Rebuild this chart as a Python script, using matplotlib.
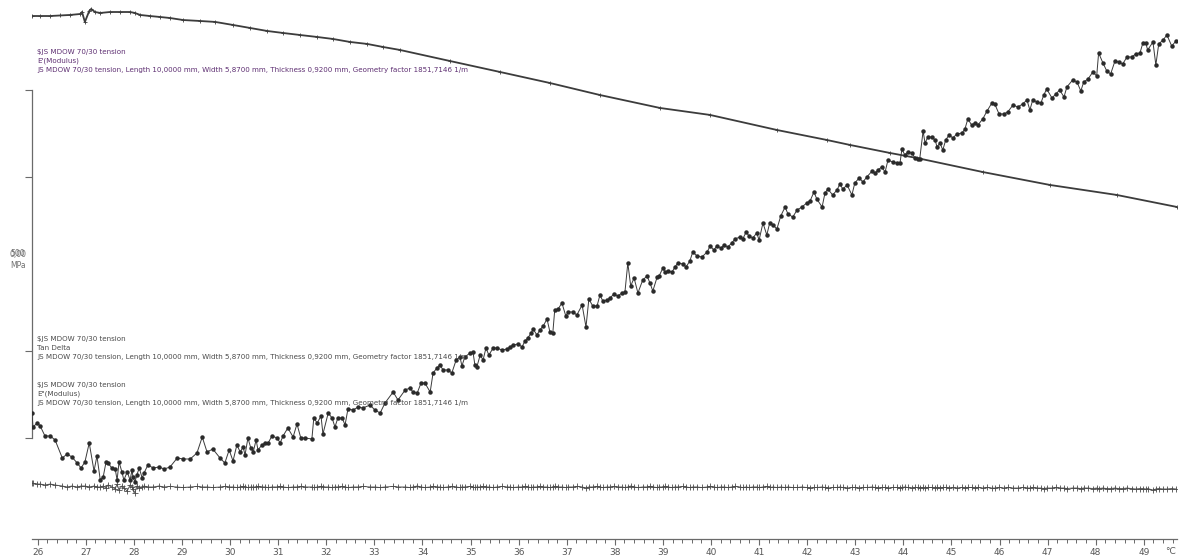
import matplotlib
matplotlib.use("Agg")
import matplotlib.pyplot as plt
from matplotlib.ticker import MultipleLocator
import matplotlib.transforms as mtransforms

# ---------------------------------------------------------------- data
# measurement temperatures (°C) shared by tan delta and E''
temperature = [
    25.88, 25.90, 25.99, 26.05, 26.15, 26.26, 26.36, 26.51, 26.61, 26.71,
    26.82, 26.90, 26.98, 27.07, 27.17, 27.23, 27.30, 27.36, 27.42, 27.46,
    27.54, 27.61, 27.65, 27.69, 27.75, 27.79, 27.86, 27.92, 27.96, 27.98,
    28.02, 28.06, 28.11, 28.17, 28.21, 28.29, 28.40, 28.52, 28.63, 28.75,
    28.90, 29.02, 29.17, 29.31, 29.42, 29.52, 29.64, 29.79, 29.89, 29.98,
    30.06, 30.14, 30.21, 30.27, 30.31, 30.37, 30.43, 30.48, 30.54, 30.58,
    30.66, 30.73, 30.79, 30.87, 30.98, 31.04, 31.10, 31.20, 31.31, 31.39,
    31.47, 31.56, 31.70, 31.74, 31.81, 31.89, 31.93, 32.04, 32.12, 32.18,
    32.24, 32.33, 32.39, 32.45, 32.56, 32.66, 32.76, 32.91, 33.01, 33.12,
    33.22, 33.39, 33.49, 33.64, 33.74, 33.80, 33.89, 33.97, 34.05, 34.16,
    34.22, 34.30, 34.36, 34.43, 34.53, 34.61, 34.70, 34.78, 34.82, 34.88,
    34.99, 35.05, 35.09, 35.13, 35.20, 35.26, 35.32, 35.38, 35.47, 35.55,
    35.65, 35.76, 35.82, 35.88, 35.99, 36.07, 36.13, 36.19, 36.26, 36.30,
    36.38, 36.44, 36.51, 36.59, 36.65, 36.71, 36.75, 36.82, 36.90, 36.98,
    37.03, 37.13, 37.21, 37.32, 37.40, 37.46, 37.54, 37.63, 37.69, 37.75,
    37.84, 37.90, 37.98, 38.06, 38.15, 38.21, 38.27, 38.33, 38.40, 38.48,
    38.58, 38.67, 38.73, 38.79, 38.88, 38.92, 39.00, 39.04, 39.10, 39.19,
    39.25, 39.31, 39.42, 39.48, 39.56, 39.62, 39.71, 39.81, 39.92, 39.98,
    40.06, 40.12, 40.21, 40.27, 40.35, 40.43, 40.50, 40.60, 40.66, 40.73,
    40.79, 40.87, 40.95, 41.00, 41.08, 41.16, 41.22, 41.29, 41.37, 41.45,
    41.54, 41.60, 41.70, 41.79, 41.89, 41.99, 42.06, 42.14, 42.20, 42.31,
    42.37, 42.43, 42.53, 42.62, 42.68, 42.74, 42.83, 42.93, 42.99, 43.08,
    43.16, 43.24, 43.35, 43.41, 43.47, 43.55, 43.62, 43.68, 43.78, 43.87,
    43.93, 43.97, 44.03, 44.09, 44.18, 44.24, 44.30, 44.34, 44.41, 44.45,
    44.51, 44.59, 44.66, 44.70, 44.76, 44.82, 44.88, 44.95, 45.03, 45.11,
    45.22, 45.28, 45.34, 45.42, 45.49, 45.55, 45.65, 45.74, 45.84, 45.90,
    45.99, 46.09, 46.17, 46.28, 46.38, 46.48, 46.57, 46.63, 46.69, 46.78,
    46.86, 46.92, 46.98, 47.09, 47.17, 47.25, 47.34, 47.40, 47.52, 47.61,
    47.69, 47.75, 47.84, 47.94, 48.02, 48.06, 48.15, 48.23, 48.31, 48.40,
    48.48, 48.56, 48.65, 48.75, 48.83, 48.92, 48.98, 49.04, 49.08, 49.19,
    49.25, 49.31, 49.40, 49.48, 49.58, 49.67,
]

tan_delta = [
    .087, .073, .077, .074, .064, .064, .060, .042, .046, .043,
    .037, .032, .038, .057, .029, .044, .020, .023, .038, .037,
    .032, .031, .020, .038, .028, .020, .028, .020, .030, .023,
    .018, .025, .032, .022, .027, .035, .032, .033, .031, .033,
    .042, .041, .041, .047, .063, .048, .051, .042, .037, .050,
    .039, .055, .048, .053, .045, .062, .052, .048, .060, .050,
    .055, .057, .057, .064, .062, .057, .064, .072, .063, .076,
    .062, .062, .061, .082, .077, .084, .066, .087, .082, .073,
    .082, .082, .075, .091, .090, .093, .092, .095, .090, .087,
    .097, .108, .100, .110, .112, .108, .107, .117, .117, .108,
    .127, .132, .135, .130, .130, .127, .140, .143, .134, .143,
    .147, .148, .135, .133, .145, .140, .152, .145, .152, .152,
    .150, .151, .153, .155, .156, .153, .159, .162, .167, .171,
    .165, .170, .174, .181, .168, .167, .190, .191, .197, .184,
    .188, .188, .185, .195, .173, .201, .194, .194, .205, .199,
    .200, .202, .206, .204, .207, .208, .237, .214, .222, .207,
    .220, .224, .217, .209, .223, .224, .232, .228, .229, .228,
    .233, .237, .236, .233, .239, .248, .244, .243, .248, .254,
    .250, .254, .252, .255, .253, .257, .261, .263, .261, .268,
    .264, .262, .267, .260, .277, .265, .277, .275, .271, .284,
    .293, .286, .283, .290, .293, .297, .299, .308, .301, .293,
    .307, .311, .305, .310, .316, .311, .315, .305, .317, .322,
    .318, .323, .329, .327, .330, .333, .328, .340, .338, .337,
    .337, .351, .345, .348, .347, .342, .341, .341, .369, .357,
    .363, .363, .360, .353, .357, .350, .360, .365, .362, .366,
    .367, .371, .381, .375, .377, .375, .381, .389, .397, .396,
    .386, .386, .388, .395, .393, .396, .400, .390, .400, .398,
    .397, .405, .411, .402, .406, .410, .403, .413, .420, .418,
    .409, .418, .421, .428, .424, .447, .437, .429, .426, .439,
    .438, .436, .443, .443, .446, .447, .457, .457, .450, .458,
    .435, .456, .460, .465, .454, .459,
]

# loss modulus E'' (MPa)
e_loss = [
    248.3, 247.7, 247.1, 247.1, 246.0, 247.1, 246.0, 244.8, 243.7, 244.8,
    243.7, 244.8, 244.8, 243.7, 244.8, 243.7, 243.7, 244.8, 242.5, 246.0,
    243.7, 241.4, 247.1, 240.2, 244.8, 242.5, 239.1, 246.0, 243.7, 241.4,
    236.8, 244.8, 242.5, 243.7, 244.8, 243.7, 243.7, 244.8, 243.7, 244.3,
    243.7, 243.1, 243.7, 244.3, 243.7, 243.7, 243.1, 243.7, 244.3, 243.7,
    243.7, 243.1, 243.7, 244.3, 243.7, 243.1, 243.7, 243.7, 243.7, 244.3,
    243.7, 243.7, 243.1, 243.7, 243.7, 244.3, 243.7, 243.1, 243.7, 243.7,
    244.3, 243.7, 243.7, 243.1, 243.7, 244.3, 243.7, 243.7, 243.1, 243.7,
    243.7, 244.3, 243.7, 243.1, 243.7, 243.7, 244.3, 243.7, 243.7, 243.1,
    243.7, 244.3, 243.7, 243.7, 243.1, 243.7, 244.8, 243.7, 243.1, 243.7,
    244.3, 243.7, 243.7, 243.1, 243.7, 244.3, 243.7, 243.1, 243.7, 243.7,
    244.3, 243.7, 243.1, 243.7, 243.7, 244.3, 243.7, 243.7, 243.1, 243.7,
    244.3, 243.7, 243.7, 243.1, 243.7, 243.7, 244.3, 243.7, 243.1, 243.7,
    243.7, 244.3, 243.7, 243.7, 243.1, 243.7, 244.3, 243.7, 243.7, 243.1,
    243.7, 243.7, 244.3, 243.7, 242.5, 243.7, 243.7, 244.3, 243.7, 243.1,
    243.7, 243.7, 244.3, 243.7, 243.7, 243.1, 243.7, 244.8, 243.7, 243.1,
    243.7, 243.7, 244.3, 243.7, 243.1, 243.7, 243.7, 244.3, 243.7, 243.1,
    243.7, 243.7, 244.3, 243.7, 243.1, 243.7, 243.7, 243.1, 243.7, 244.3,
    243.7, 243.1, 243.7, 243.7, 243.1, 243.7, 244.3, 243.7, 243.1, 243.7,
    243.1, 243.7, 243.7, 243.1, 243.7, 244.3, 243.1, 243.7, 243.1, 243.7,
    243.1, 243.7, 243.1, 243.1, 243.7, 243.1, 242.5, 243.1, 243.1, 243.7,
    243.1, 242.5, 243.1, 243.1, 243.7, 243.1, 242.5, 243.1, 243.1, 242.5,
    243.1, 243.1, 243.7, 243.1, 242.5, 243.1, 243.1, 242.5, 243.1, 243.1,
    242.5, 243.1, 243.7, 243.1, 242.5, 243.1, 243.1, 242.5, 243.1, 242.5,
    243.1, 243.1, 242.5, 243.1, 242.5, 243.1, 243.1, 242.5, 243.1, 242.5,
    243.1, 242.5, 243.1, 243.1, 242.5, 243.1, 242.5, 243.1, 242.5, 242.5,
    243.1, 242.5, 243.1, 242.5, 242.5, 243.1, 242.5, 242.5, 243.1, 242.5,
    242.5, 241.9, 242.5, 242.5, 243.1, 242.5, 242.5, 241.9, 242.5, 242.5,
    241.9, 242.5, 242.5, 241.9, 242.5, 241.9, 242.5, 241.9, 241.9, 242.5,
    241.9, 241.9, 242.5, 241.9, 241.4, 241.9, 241.9, 241.4, 241.9, 240.2,
    241.4, 241.9, 241.4, 241.4, 241.9, 241.4,
]

# storage modulus E' (MPa) on its own temperature points
temp_storage = [
    25.88, 26.05, 26.26, 26.46, 26.67, 26.88, 26.92, 26.98, 27.07, 27.11,
    27.19, 27.30, 27.50, 27.71, 27.92, 28.02, 28.13, 28.33, 28.54, 28.75,
    29.02, 29.37, 29.69, 30.06, 30.41, 30.77, 31.10, 31.45, 31.81, 32.14,
    32.49, 32.85, 33.18, 33.53, 34.57, 35.61, 36.65, 37.69, 38.94, 39.98,
    41.37, 42.41, 42.89, 43.72, 44.28, 45.65, 47.05, 48.44, 49.69,
]
e_storage = [
    785.0, 785.0, 785.0, 785.6, 786.2, 787.3, 789.6, 778.2, 790.8, 793.1,
    789.6, 788.5, 789.6, 789.6, 789.6, 788.5, 786.2, 785.0, 783.9, 782.7,
    780.4, 779.3, 778.2, 774.7, 771.3, 767.8, 765.5, 763.2, 760.9, 758.6,
    755.2, 752.9, 749.4, 746.0, 733.3, 720.7, 708.0, 694.2, 679.3, 671.3,
    654.0, 642.5, 636.8, 627.6, 621.8, 605.7, 590.8, 579.3, 565.5,
]

x_ticks = list(range(26, 50))
modulus_ticks = [300, 400, 600, 700]

header = "$JS MDOW 70/30 tension"
sample = ("JS MDOW 70/30 tension, Length 10,0000 mm, Width 5,8700 mm, "
          "Thickness 0,9200 mm, Geometry factor 1851,7146 1/m")

# ---------------------------------------------------------------- figure
W, H = 1182, 559
fig = plt.figure(figsize=(W / 100, H / 100), dpi=100)
fig.patch.set_facecolor("white")


def fx(px):
    return px / W


def fy(py):
    return 1 - py / H


ax = fig.add_axes([fx(32), fy(539), 1145 / W, 539 / H])
ax.patch.set_alpha(0)
ax.set_xlim(25.88, 49.69)
ax.set_ylim(183.9, 803.4)

for side in ("top", "right"):
    ax.spines[side].set_visible(False)
ax.spines["left"].set_bounds(300, 700)
ax.spines["left"].set_color("#6a6a6a")
ax.spines["left"].set_linewidth(0.9)
ax.spines["bottom"].set_color("#6a6a6a")
ax.spines["bottom"].set_linewidth(0.9)

ax.set_yticks(modulus_ticks)
ax.set_yticklabels([])
ax.tick_params(axis="y", direction="out", length=5, width=0.8, color="#6a6a6a")

ax.set_xticks(x_ticks)
ax.xaxis.set_minor_locator(MultipleLocator(0.2))
ax.tick_params(axis="x", which="major", direction="out", length=4, width=0.8,
               color="#6a6a6a", labelsize=6.5, labelcolor="#555555", pad=2.5)
ax.tick_params(axis="x", which="minor", direction="out", length=3, width=0.7,
               color="#6a6a6a")

# E' and E'' on the MPa scale
ax.plot(temp_storage, e_storage, color="#3c3c3c", lw=1.3, marker="+",
        ms=2.5, mew=0.6, zorder=3)
ax.plot(temperature, e_loss, color="#4a4a4a", lw=0.6, marker="+",
        ms=4, mew=0.6, zorder=3)

# tan delta on its own scale
axt = ax.twinx()
axt.set_ylim(-0.039, 0.5)
axt.axis("off")
axt.plot(temperature, tan_delta, color="#3a3a3a", lw=0.7, marker="o",
         ms=2.2, mfc="#2a2a2a", mec="#2a2a2a", zorder=4)

# unit labels
trans = mtransforms.blended_transform_factory(ax.transData, ax.transAxes)
ax.text(49.55, -12 / 539, "°C", transform=trans, ha="center", va="center",
        fontsize=6.5, color="#555555")
fig.text(fx(18), fy(254), "0,00", ha="center", va="center", fontsize=5.5,
         color="#707070")
fig.text(fx(18), fy(254), "500", ha="center", va="center", fontsize=5.5,
         color="#707070")
fig.text(fx(18), fy(266), "MPa", ha="center", va="center", fontsize=5.5,
         color="#707070")

# curve descriptions
text_size = 5.15
purple = "#5e2f72"
grey = "#4a4a4a"
blocks = [
    (52, [header, "E'(Modulus)", sample], purple),
    (339, [header, "Tan Delta", sample], grey),
    (385, [header, 'E"(Modulus)', sample], grey),
]
for top, lines, col in blocks:
    for i, line in enumerate(lines):
        fig.text(fx(37), fy(top + i * 9.2), line, ha="left", va="center",
                 fontsize=text_size, color=col)

fig.savefig("out.png", dpi=100, facecolor="white")
